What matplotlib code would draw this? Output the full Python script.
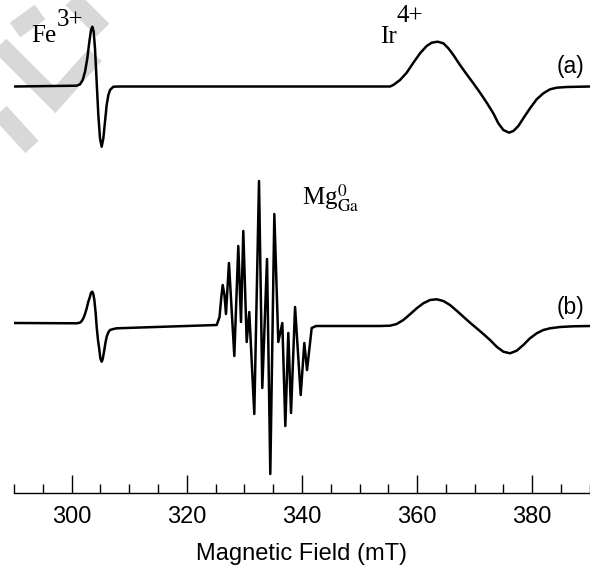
import numpy as np
import matplotlib
matplotlib.use("Agg")
import matplotlib.pyplot as plt
from matplotlib.ticker import MultipleLocator

# EPR spectra (field in mT, signal in arbitrary units)
# trace (a)
fe_a_field = [290.0, 300.87, 301.45, 301.91, 302.32, 302.72, 303.07, 303.36, 303.59, 303.82, 304.05,
              304.34, 304.63, 304.92, 305.21, 305.50, 305.79, 306.08, 306.37, 306.66, 307.24, 308.40]
fe_a_signal = [0, 0.8, 2.2, 6.5, 14.8, 28.2, 44.8, 56.5, 59.8, 54.8, 38.2,
               4.8, -28.5, -51.8, -60.2, -51.8, -35.2, -18.5, -8.5, -3.5, -0.2, 0]
ir_a_field = [353.56, 355.29, 355.87, 357.03, 358.19, 359.35, 360.51, 361.66, 362.53, 363.57, 364.56,
              365.43, 366.30, 367.45, 368.61, 369.77, 370.93, 372.09, 373.24, 374.11, 374.98, 375.97,
              376.72, 377.59, 378.45, 379.61, 380.77, 381.93, 383.09, 384.25, 385.98, 390.0]
ir_a_signal = [0, 0, 1.5, 6.5, 13.8, 23.8, 33.2, 40.5, 43.8, 44.8, 43.2,
               38.2, 31.5, 21.5, 12.2, 3.2, -6.2, -16.2, -26.8, -36.8, -43.5, -46.2,
               -44.5, -39.5, -31.8, -21.8, -12.8, -6.8, -2.8, -1.2, -0.5, 0]

# trace (b)
fe_b_field = [290.0, 300.87, 301.45, 301.74, 302.03, 302.32, 302.61, 302.89, 303.18, 303.36, 303.59, 303.76,
              303.94, 304.17, 304.34, 304.57, 304.81, 304.98, 305.21, 305.38, 305.62, 305.85, 306.08,
              306.37, 306.66, 307.24, 307.82, 312.0]
fe_b_signal = [2, 1.7, 2.3, 4, 6.7, 11, 16.7, 23.3, 28.3, 32.3, 33.3, 31,
               25, 11.7, -1.7, -15, -25, -33.3, -36.7, -34.3, -26.7, -18.3, -11.7,
               -7.3, -5, -4, -3.3, -2.5]
mg_b_field = [325.19, 325.68, 325.98, 326.23, 326.54, 326.80, 327.32, 328.25, 328.94, 329.41, 329.81,
              330.40, 330.85, 331.72, 332.54, 333.11, 333.93, 334.50, 335.20, 335.89, 336.59, 337.11,
              337.63, 338.10, 338.80, 339.78, 340.41, 340.88, 341.69, 342.44]
mg_b_signal = [0, 8, 27, 40, 30, 11, 62, -31, 79, 3, 94,
               -17, 13, -89, 144, -63, 66, -149, 111, -17, 2, -101,
               -8, -88, 18, -70, -18, -45, -3, -1]
ir_b_field = [353.56, 355.29, 356.45, 357.61, 358.77, 359.93, 361.08, 362.24, 363.40, 364.56, 365.72,
              366.87, 368.03, 369.19, 370.35, 371.51, 372.67, 373.82, 374.98, 376.14, 377.30, 378.45,
              379.61, 380.77, 381.93, 383.09, 384.83, 387.14, 390.0]
ir_b_signal = [-1, -0.7, 1, 5, 10.7, 16.7, 21.7, 25, 25.7, 24, 20,
               14.3, 8.3, 2.3, -3.3, -9, -15, -21.7, -26.7, -28.3, -25.7, -20,
               -13.3, -8.3, -5, -3.3, -2, -1.3, -1]

offset_a = 406.8
offset_b = 168.3

field_a = np.array(fe_a_field + ir_a_field)
signal_a = np.array(fe_a_signal + ir_a_signal) + offset_a
field_b = np.array(fe_b_field + mg_b_field + ir_b_field)
signal_b = np.array(fe_b_signal + mg_b_signal + ir_b_signal) + offset_b

fig = plt.figure(figsize=(5.9, 5.73), dpi=100)

# grey watermark in the top left corner (figure pixels, y from top)
wm_lines = [
    [(0, 45), (55, 100), (95, 55)],
    [(68, -5), (103, 30)],
    [(0, 112), (32, 147)],
    [(15, 30), (40, 12)],
]
for pts in wm_lines:
    xs = [p[0] / 590 for p in pts]
    ys = [1 - p[1] / 573 for p in pts]
    fig.add_artist(plt.Line2D(xs, ys, color='#d8d8d8', lw=13, solid_capstyle='butt',
                              solid_joinstyle='miter', transform=fig.transFigure, zorder=0))

ax = fig.add_axes([0.0239, 0.1391, 0.9758, 0.8609])
ax.patch.set_alpha(0)

ax.plot(field_a, signal_a, color='black', lw=1.8, solid_joinstyle='round')
ax.plot(field_b, signal_b, color='black', lw=1.8, solid_joinstyle='round')

ax.set_xlim(290, 390)
ax.set_ylim(0, 493.3)

for s in ['top', 'right', 'left']:
    ax.spines[s].set_visible(False)
ax.spines['bottom'].set_linewidth(1.0)
ax.set_yticks([])

ax.set_xticks([300, 320, 340, 360, 380])
ax.xaxis.set_minor_locator(MultipleLocator(5))
ax.tick_params(axis='x', which='major', direction='in', length=13, width=1.0, pad=9,
               labelsize=17)
ax.tick_params(axis='x', which='minor', direction='in', length=6.5, width=1.0)
for lab in ax.get_xticklabels():
    lab.set_fontfamily('Liberation Sans')
ax.set_xlabel('Magnetic Field (mT)', fontsize=17, fontfamily='Liberation Sans', labelpad=11)

plt.rcParams['mathtext.fontset'] = 'stix'
serif = 'Liberation Serif'
ax.text(293.0, 451.6, 'Fe', fontsize=18, fontfamily=serif, ha='left', va='baseline')
ax.text(297.4, 467.3, '3+', fontsize=18, fontfamily=serif, ha='left', va='baseline')
ax.text(353.5, 450.6, 'Ir', fontsize=18, fontfamily=serif, ha='left', va='baseline')
ax.text(356.4, 471.6, '4+', fontsize=18, fontfamily=serif, ha='left', va='baseline')
ax.text(340.0, 288.3, r'Mg$^{0}_{\rm Ga}$', fontsize=18, fontfamily=serif, ha='left', va='baseline')
ax.text(386.6, 426.6, '(a)', fontsize=16.5, fontfamily='Liberation Sans', ha='center', va='center')
ax.text(386.6, 185.3, '(b)', fontsize=16.5, fontfamily='Liberation Sans', ha='center', va='center')

plt.savefig('out.png', dpi=100)
